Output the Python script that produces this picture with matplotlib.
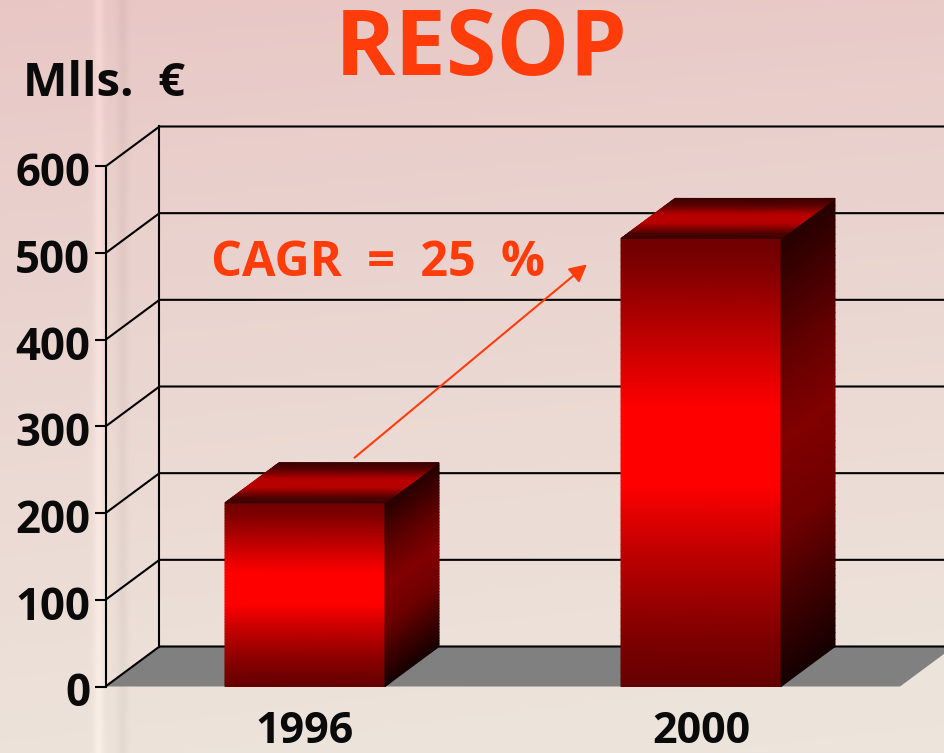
import matplotlib
matplotlib.use("Agg")
import matplotlib.pyplot as plt
import matplotlib.transforms as mtrans
import numpy as np
from matplotlib.colors import LinearSegmentedColormap

# Chart data
years = ["1996", "2000"]
resop = [212, 517]
yticks = [0, 100, 200, 300, 400, 500, 600]

W, H = 944, 753
# front plane in pixels
LEFT, RIGHT = 105.5, 944
BASE, TOP600 = 686.5, 166.5
PX_X = 396.0  # pixels per category
PX_Y = (BASE - TOP600) / 600.0
DX = 54 / PX_X
DY = 40 / PX_Y
BAR_W = 160 / PX_X

front_cmap = LinearSegmentedColormap.from_list(
    "front", [(0.0, "#640000"), (0.1, "#7c0000"), (0.3, "#c00000"), (0.45, "#ff0000"),
              (0.62, "#ff0000"), (0.8, "#b80000"), (0.95, "#7a0000"), (1.0, "#700000")])
side_cmap = LinearSegmentedColormap.from_list(
    "side", [(0.0, "#160000"), (0.35, "#700000"), (0.55, "#820000"), (0.75, "#600000"), (1.0, "#260000")])
top_cmap = LinearSegmentedColormap.from_list(
    "top", [(0.0, "#3c0000"), (0.12, "#4a0000"), (0.4, "#b80000"), (0.6, "#b80000"), (0.85, "#5a0000"), (1.0, "#3c0000")])

plt.rcParams["font.family"] = ["Open Sans", "Liberation Sans", "DejaVu Sans"]

fig = plt.figure(figsize=(W / 100, H / 100), dpi=100)

# background
bg = fig.add_axes([0, 0, 1, 1], zorder=0)
bg.axis("off")
t = np.linspace(0, 1, 300)[:, None]
s = np.linspace(0, 1, 472)[None, :]
c_tl = np.array([232, 199, 197]) / 255
c_br = np.array([237, 229, 220]) / 255
mix = np.clip(t ** 0.85 * 0.93 + s * 0.12 - 0.02, 0, 1)[..., None]
img = c_tl * (1 - mix) + c_br * mix
# vertical band left of the axis
xp = np.linspace(0, W, 472)
band = 0.05 * np.exp(-((xp - 98) / 5) ** 2) - 0.035 * np.exp(-((xp - 122) / 5) ** 2)
img = np.clip(img + band[None, :, None], 0, 1)
bg.imshow(img, extent=[0, W, H, 0], aspect="auto", interpolation="bilinear")

# main axes sits on the front plane
ax = fig.add_axes([LEFT / W, 1 - BASE / H, (RIGHT - LEFT) / W, (BASE - TOP600) / H], zorder=1)
ax.patch.set_alpha(0)
x0 = (LEFT - 305) / PX_X
xr = x0 + (RIGHT - LEFT) / PX_X
ax.set_xlim(x0, xr)
ax.set_ylim(0, 600)
for sp in ["top", "right", "bottom"]:
    ax.spines[sp].set_visible(False)
ax.spines["left"].set_linewidth(1.5)
ax.spines["left"].set_color("black")
ax.set_yticks(yticks)
ax.set_yticklabels([str(v) for v in yticks], fontsize=31.5, fontweight="bold", color="#0a0a0a")
ax.tick_params(axis="y", length=8, width=1.5, pad=3)
ax.set_xticks(range(len(years)))
ax.set_xticklabels(years, fontsize=31, fontweight="bold", color="#0a0a0a")
ax.tick_params(axis="x", length=0, pad=17)
shift = mtrans.ScaledTranslation(0, -3 / 100, fig.dpi_scale_trans)
for lab in ax.get_yticklabels():
    lab.set_transform(lab.get_transform() + shift)

# floor
floor_r = xr - 44 / PX_X
ax.fill([x0, x0 + DX, floor_r + DX, floor_r], [0, DY, DY, 0], color="#808080", lw=0,
        clip_on=True, zorder=1)

# walls and grid lines
for v in yticks:
    ax.plot([x0, x0 + DX, xr], [v, v + DY, v + DY], color="black", lw=1.5,
            clip_on=False, zorder=2, solid_capstyle="butt", solid_joinstyle="miter")
ax.plot([x0 + DX, x0 + DX], [DY, 600 + DY], color="black", lw=1.5, clip_on=False, zorder=2)

# bars
grad = np.linspace(0, 1, 64)
for i, val in enumerate(resop):
    xa, xb = i - BAR_W / 2, i + BAR_W / 2
    # front face
    X, Y = np.meshgrid([xa, xb], np.linspace(0, val, 64))
    ax.pcolormesh(X, Y, np.tile(grad[:, None], (1, 2)), cmap=front_cmap, shading="gouraud",
                  zorder=3, clip_on=False)
    # side face
    u = np.array([0, 1.0])
    Xs = np.tile(xb + DX * u, (64, 1))
    Ys = np.linspace(0, val, 64)[:, None] + DY * u[None, :]
    ax.pcolormesh(Xs, Ys, np.tile(grad[:, None], (1, 2)), cmap=side_cmap, shading="gouraud",
                  zorder=3, clip_on=False)
    # top face
    v = np.linspace(0, 1, 64)
    Xt = np.column_stack([xa + DX * v, xb + DX * v])
    Yt = np.column_stack([val + DY * v, val + DY * v])
    ax.pcolormesh(Xt, Yt, np.tile(v[:, None], (1, 2)), cmap=top_cmap, shading="gouraud",
                  zorder=3, clip_on=False)

# growth arrow
ax.annotate("", xy=(0.712, 487), xytext=(0.125, 264),
            arrowprops=dict(arrowstyle="-|>,head_length=1.05,head_width=0.55", color="#ff3c0a",
                            lw=1.5, shrinkA=0, shrinkB=0), zorder=4)

fig.text(481 / W, 1 - 51 / H, "RESOP", color="#ff3c0a", fontsize=66, fontweight="bold",
         ha="center", va="center", zorder=5)
fig.text(104 / W, 1 - 84 / H, "Mlls.  €", color="#0a0a0a", fontsize=34, fontweight="bold",
         ha="center", va="center", zorder=5)
fig.text(378 / W, 1 - 263 / H, "CAGR  =  25  %", color="#ff3c0a", fontsize=35, fontweight="bold",
         ha="center", va="center", zorder=5)

fig.savefig("out.png", dpi=100)
